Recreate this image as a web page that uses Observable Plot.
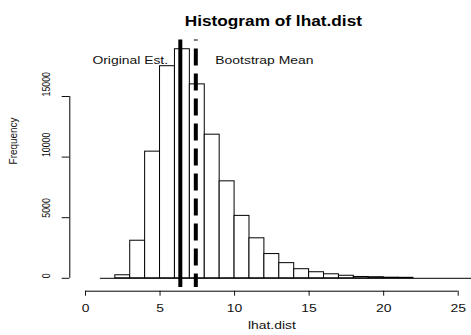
<!DOCTYPE html>
<html><head><meta charset="utf-8">
<script src="https://cdn.jsdelivr.net/npm/d3@7"></script>
<script src="https://cdn.jsdelivr.net/npm/@observablehq/plot@0.6"></script>
<style>body{margin:0;background:#fff} svg{display:block}</style>
</head><body>
<script>
// ---- data ----
const binStart = [1,2,3,4,5,6,7,8,9,10,11,12,13,14,15,16,17,18,19,20,21,22,23,24,25,26];
const binEnd   = [2,3,4,5,6,7,8,9,10,11,12,13,14,15,16,17,18,19,20,21,22,23,24,25,26,27];
const counts   = [0,250,3100,10450,17500,18900,16000,11850,8000,5150,3300,2000,1250,750,500,330,210,110,90,50,40,0,0,0,0,0];
const xTicks = [0,5,10,15,20,25];
const yTicks = [0,5000,10000,15000];
const originalEst = 6.36;
const bootstrapMean = 7.40;
const annotLabels = ["Original Est.", "Bootstrap Mean"];
const annotX = [3, 12];
const annotY = [18000, 18000];
const titleText = "Histogram of lhat.dist";
const xLabel = "lhat.dist";
const yLabel = "Frequency";

// ---- derived ----
const bins = binStart.map((s, i) => ({x1: s, x2: binEnd[i], count: counts[i]})).filter(d => d.count > 0);
const maxCount = d3.max(counts);
const yLo = -0.04 * maxCount, yHi = 1.04 * maxCount;
const font = "'Liberation Sans', Arial, Helvetica, sans-serif";

const chart = Plot.plot({
  width: 471, height: 335,
  marginLeft: 85, marginRight: 13.3, marginTop: 96, marginBottom: 57.2,
  style: {fontFamily: font, fontSize: "10.7px", background: "white", color: "#111"},
  x: {domain: [xTicks[0], xTicks[xTicks.length - 1]], label: null},
  y: {domain: [yTicks[0], yTicks[yTicks.length - 1]], label: null},
  marks: [
    Plot.rect(bins, {x1: "x1", x2: "x2", y1: 0, y2: "count", fill: "white", stroke: "black", strokeWidth: 1}),
    Plot.ruleY([0], {x1: binStart[0], x2: binEnd[binEnd.length - 1], stroke: "black", strokeWidth: 1}),
    Plot.ruleX([originalEst], {y1: yLo, y2: yHi, stroke: "black", strokeWidth: 4}),
    Plot.ruleX([bootstrapMean], {y1: yHi, y2: yLo, stroke: "black", strokeWidth: 4, strokeDasharray: "17,8", strokeDashoffset: 16}),
    // axis lines (R style: from first to last tick)
    Plot.ruleX([xTicks[0]], {y1: yTicks[0], y2: yTicks[yTicks.length - 1], dx: -15.7, stroke: "black"}),
    Plot.ruleY([yTicks[0]], {x1: xTicks[0], x2: xTicks[xTicks.length - 1], dy: 12.9, stroke: "black"}),
    Plot.axisX({ticks: xTicks, tickSize: 5, tickPadding: 8, dy: 12.9, fontSize: 10.7, label: null}),
    Plot.axisY({ticks: yTicks, tickSize: 7.6, dx: -15.7, tickFormat: () => "", label: null}),
    Plot.text(yTicks, {y: d => d, text: d => String(d), frameAnchor: "left", dx: -39.5, rotate: -90, fontSize: 11}),
    Plot.text(annotLabels, {x: (d, i) => annotX[i], y: (d, i) => annotY[i], text: d => d, fontSize: 10.7}),
    Plot.text([titleText], {text: d => d, frameAnchor: "top", dy: -81.5, dx: 1.5, fontWeight: "bold", fontSize: 15, fill: "black"}),
    Plot.text([xLabel], {text: d => d, frameAnchor: "bottom", dy: 50.2, fontSize: 10.7}),
    Plot.text([yLabel], {text: d => d, frameAnchor: "left", dx: -72, dy: -23, rotate: -90, fontSize: 11})
  ]
});
document.body.append(chart);

// widen/narrow glyphs to mimic the reference's aspect (it is squeezed vertically)
chart.querySelectorAll("text").forEach(t => {
  const L = t.getComputedTextLength();
  if (!L) return;
  const s = t.textContent;
  const rotated = (t.getAttribute("transform") || "").includes("rotate");
  let f;
  if (s === titleText) f = 1.15;
  else if (s === yLabel) f = 0.9;
  else if (rotated) f = 0.8;
  else f = 1.3;
  t.setAttribute("textLength", (L * f).toFixed(1));
  t.setAttribute("lengthAdjust", "spacingAndGlyphs");
});
</script>
</body></html>
